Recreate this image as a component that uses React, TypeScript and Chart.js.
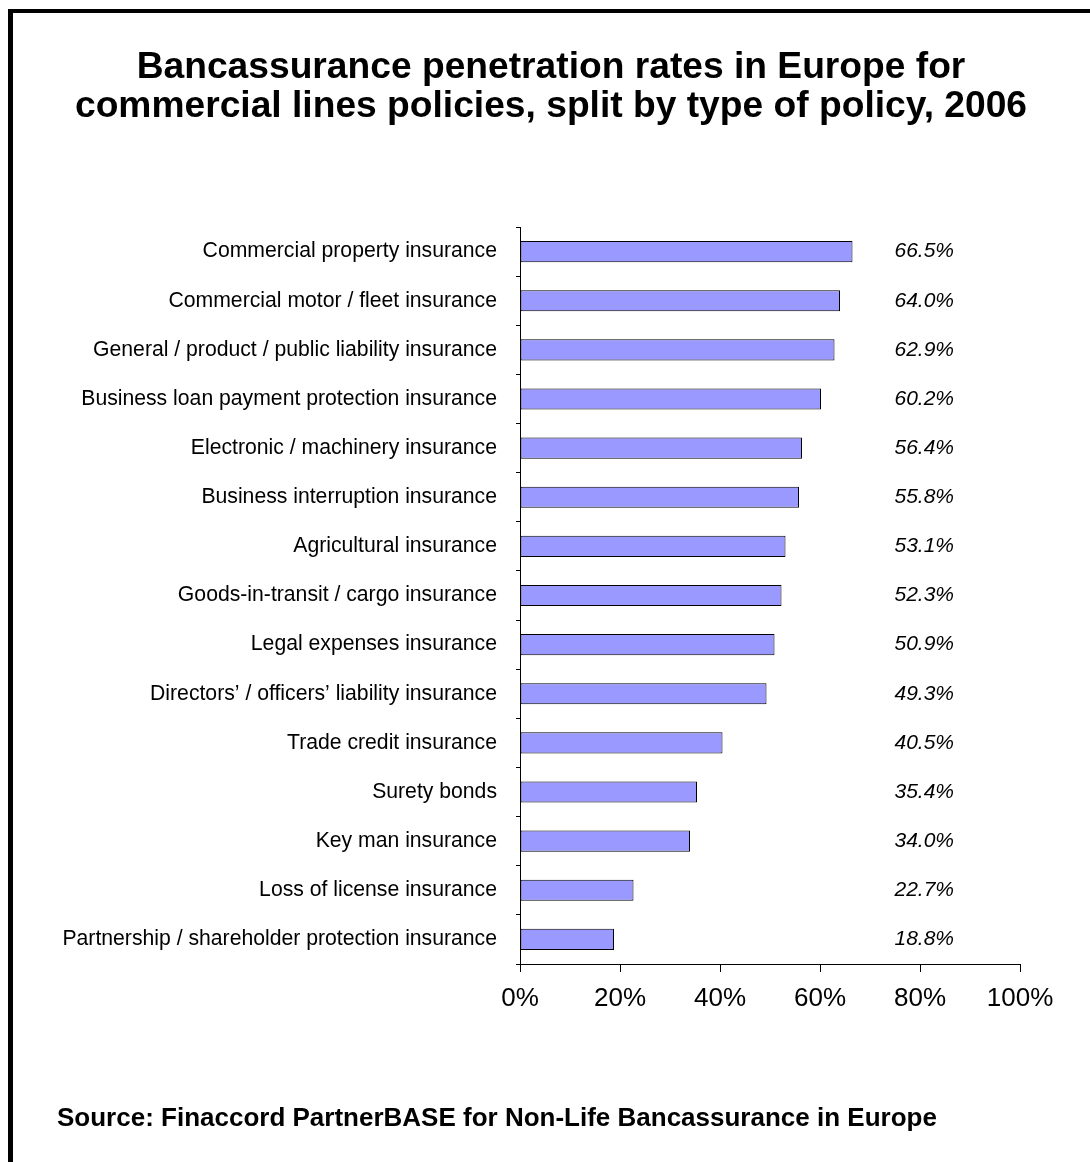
import React, { useEffect, useRef } from "react";
import { Chart, registerables } from "chart.js";

Chart.register(...registerables);

const titleLines = [
  "Bancassurance penetration rates in Europe for",
  "commercial lines policies, split by type of policy, 2006",
];
const sourceText = "Source: Finaccord PartnerBASE for Non-Life Bancassurance in Europe";

const categories = [
  "Commercial property insurance",
  "Commercial motor / fleet insurance",
  "General / product / public liability insurance",
  "Business loan payment protection insurance",
  "Electronic / machinery insurance",
  "Business interruption insurance",
  "Agricultural insurance",
  "Goods-in-transit / cargo insurance",
  "Legal expenses insurance",
  "Directors\u2019 / officers\u2019 liability insurance",
  "Trade credit insurance",
  "Surety bonds",
  "Key man insurance",
  "Loss of license insurance",
  "Partnership / shareholder protection insurance",
];
const values = [66.5, 64.0, 62.9, 60.2, 56.4, 55.8, 53.1, 52.3, 50.9, 49.3, 40.5, 35.4, 34.0, 22.7, 18.8];
const xTicks = [0, 20, 40, 60, 80, 100];

const FONT = "'Liberation Sans', Arial, Helvetica, sans-serif";

export default function App() {
  const ref = useRef<HTMLCanvasElement | null>(null);

  useEffect(() => {
    document.body.style.margin = "0";
    const canvas = ref.current;
    if (!canvas) return;

    const decor = {
      id: "decor",
      afterDraw(chart: any) {
        const ctx = chart.ctx;
        ctx.save();
        // frame
        ctx.fillStyle = "#000";
        ctx.fillRect(8, 9, 5, 1162);
        ctx.fillRect(8, 9, 1082, 4);
        // title
        ctx.textAlign = "center";
        ctx.textBaseline = "alphabetic";
        ctx.font = `bold 37.2px ${FONT}`;
        ctx.fillText(titleLines[0], 551, 78);
        ctx.fillText(titleLines[1], 551, 117);
        // source
        ctx.textAlign = "left";
        ctx.font = `bold 26px ${FONT}`;
        ctx.fillText(sourceText, 57, 1126);
        // value labels
        const meta = chart.getDatasetMeta(0);
        ctx.font = `italic 21px ${FONT}`;
        ctx.textAlign = "right";
        ctx.textBaseline = "middle";
        meta.data.forEach((bar: any, i: number) => {
          ctx.fillText(values[i].toFixed(1) + "%", 954, bar.y);
        });
        ctx.restore();
      },
    };

    const chart = new Chart(canvas, {
      type: "bar",
      data: {
        labels: categories,
        datasets: [
          {
            data: values,
            backgroundColor: "#9999FF",
            borderColor: "#000000",
            borderWidth: 1,
            borderSkipped: false,
            categoryPercentage: 1,
            barPercentage: 0.43,
          },
        ],
      },
      options: {
        indexAxis: "y",
        responsive: false,
        animation: false,
        devicePixelRatio: 1,
        layout: { padding: { left: 0, right: 70, top: 227, bottom: 138 } },
        plugins: {
          legend: { display: false },
          title: { display: false },
          tooltip: { enabled: false },
        },
        scales: {
          x: {
            min: 0,
            max: 100,
            afterBuildTicks: (s: any) => {
              s.ticks = xTicks.map((v) => ({ value: v }));
            },
            afterFit: (s: any) => {
              s.height = 60;
            },
            ticks: {
              color: "#000",
              font: { family: FONT, size: 26 },
              padding: 11,
              callback: (v: any) => v + "%",
              maxRotation: 0,
            },
            grid: {
              drawOnChartArea: false,
              drawTicks: true,
              tickLength: 8,
              color: "#000",
            },
            border: { display: true, color: "#000", width: 1 },
          },
          y: {
            afterFit: (s: any) => {
              s.width = 520;
            },
            ticks: {
              color: "#000",
              font: { family: FONT, size: 21.2 },
              padding: 19,
              autoSkip: false,
            },
            grid: {
              offset: true,
              drawOnChartArea: false,
              drawTicks: true,
              tickLength: 4,
              color: "#000",
            },
            border: { display: true, color: "#000", width: 1 },
          },
        },
      },
      plugins: [decor],
    } as any);

    return () => chart.destroy();
  }, []);

  return (
    <div style={{ width: 1090, height: 1162, background: "#fff" }}>
      <canvas ref={ref} width={1090} height={1162} style={{ display: "block", width: 1090, height: 1162 }} />
    </div>
  );
}
